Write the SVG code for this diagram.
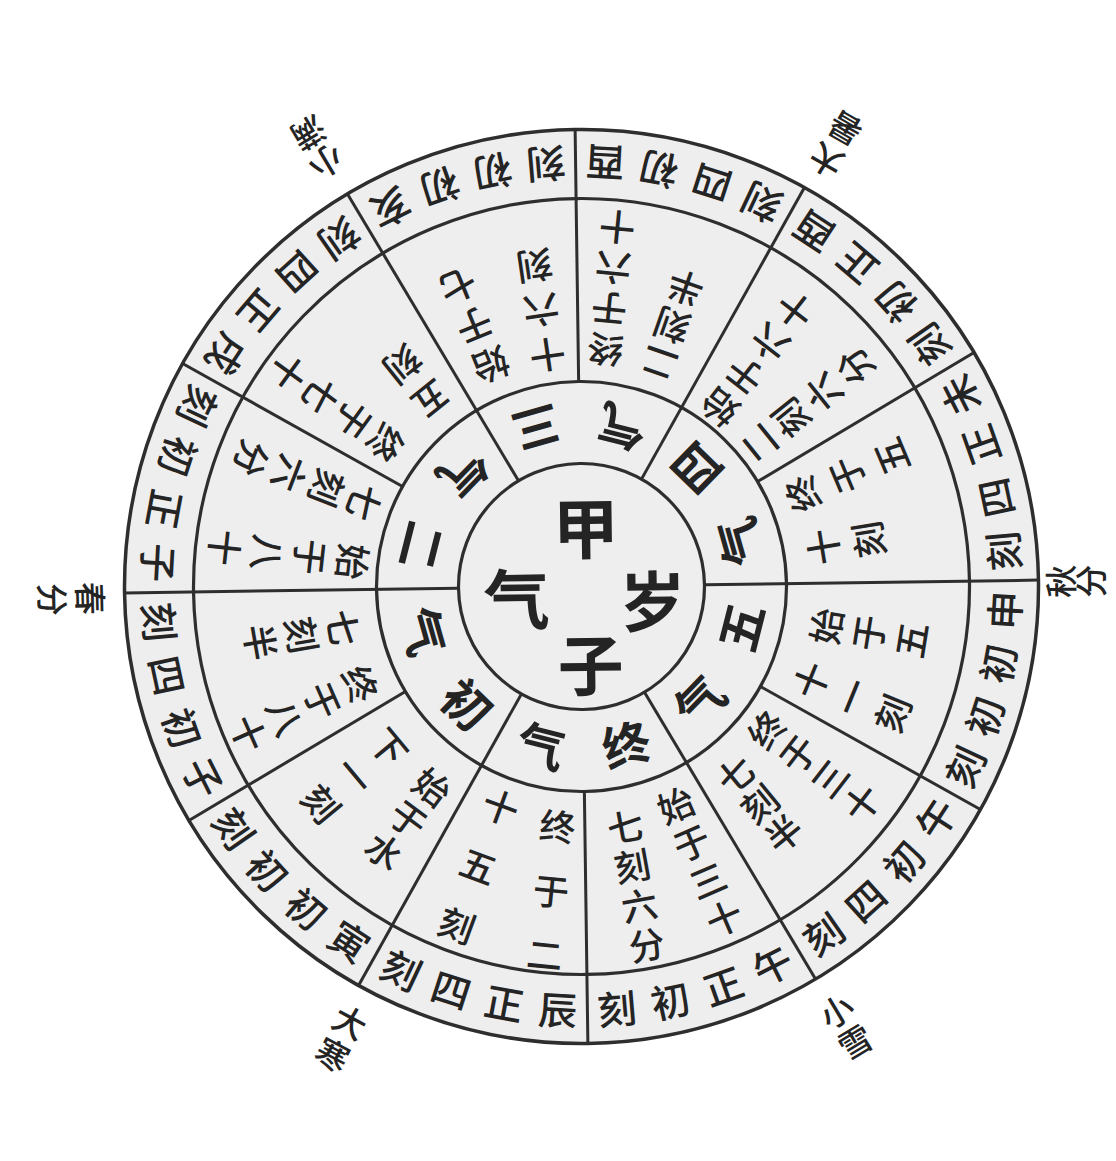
<svg xmlns="http://www.w3.org/2000/svg" width="1116" height="1161" viewBox="0 0 1116 1161">
<style>
text{font-family:"Noto Sans CJK SC","Noto Sans CJK JP",sans-serif;fill:#242424;text-anchor:middle;dominant-baseline:central}
.o{font-size:39px;font-weight:500}
.m{font-size:36px;font-weight:500}
.i{font-size:48px;font-weight:bold}
.c{font-size:66px;font-weight:bold}
.l{font-size:33px;font-weight:500}
.ring{fill:none;stroke:#2e2e2e;stroke-width:3.2}
#connectors line{stroke:#2e2e2e;stroke-width:3}
</style>
<rect width="1116" height="1161" fill="#ffffff"/>
<g transform="translate(581.5,586.5) rotate(-0.8)">
  <g id="rings">
    <circle r="457" fill="#eeeeee" stroke="#2e2e2e" stroke-width="3.5"/>
    <circle class="ring" r="388"/>
    <circle class="ring" r="205"/>
    <circle class="ring" r="123"/>
  </g>
  <g id="connectors">
    <line x1="0" y1="-205" x2="0" y2="-457"/>
    <line x1="0" y1="-205" x2="0" y2="-457" transform="rotate(60)"/>
    <line x1="0" y1="-205" x2="0" y2="-457" transform="rotate(120)"/>
    <line x1="0" y1="-205" x2="0" y2="-457" transform="rotate(180)"/>
    <line x1="0" y1="-205" x2="0" y2="-457" transform="rotate(240)"/>
    <line x1="0" y1="-205" x2="0" y2="-457" transform="rotate(300)"/>
    <line x1="0" y1="-123" x2="0" y2="-457" transform="rotate(30)"/>
    <line x1="0" y1="-123" x2="0" y2="-457" transform="rotate(90)"/>
    <line x1="0" y1="-123" x2="0" y2="-457" transform="rotate(150)"/>
    <line x1="0" y1="-123" x2="0" y2="-457" transform="rotate(210)"/>
    <line x1="0" y1="-123" x2="0" y2="-457" transform="rotate(270)"/>
    <line x1="0" y1="-123" x2="0" y2="-457" transform="rotate(330)"/>
  </g>
  <g id="outer-ring">
    <g id="o0"><text class="o" transform="rotate(4) translate(0,-422) rotate(180)">酉</text><text class="o" transform="rotate(11.3) translate(0,-422) rotate(180)">初</text><text class="o" transform="rotate(18.7) translate(0,-422) rotate(180)">四</text><text class="o" transform="rotate(26) translate(0,-422) rotate(180)">刻</text></g>
    <g id="o30"><text class="o" transform="rotate(34) translate(0,-422) rotate(180)">酉</text><text class="o" transform="rotate(41.3) translate(0,-422) rotate(180)">正</text><text class="o" transform="rotate(48.7) translate(0,-422) rotate(180)">初</text><text class="o" transform="rotate(56) translate(0,-422) rotate(180)">刻</text></g>
    <g id="o60"><text class="o" transform="rotate(64) translate(0,-422) rotate(180)">未</text><text class="o" transform="rotate(71.3) translate(0,-422) rotate(180)">正</text><text class="o" transform="rotate(78.7) translate(0,-422) rotate(180)">四</text><text class="o" transform="rotate(86) translate(0,-422) rotate(180)">刻</text></g>
    <g id="o90"><text class="o" transform="rotate(94) translate(0,-422) rotate(180)">申</text><text class="o" transform="rotate(101.3) translate(0,-422) rotate(180)">初</text><text class="o" transform="rotate(108.7) translate(0,-422) rotate(180)">初</text><text class="o" transform="rotate(116) translate(0,-422) rotate(180)">刻</text></g>
    <g id="o120"><text class="o" transform="rotate(124) translate(0,-422) rotate(180)">午</text><text class="o" transform="rotate(131.3) translate(0,-422) rotate(180)">初</text><text class="o" transform="rotate(138.7) translate(0,-422) rotate(180)">四</text><text class="o" transform="rotate(146) translate(0,-422) rotate(180)">刻</text></g>
    <g id="o150"><text class="o" transform="rotate(154) translate(0,-422) rotate(180)">午</text><text class="o" transform="rotate(161.3) translate(0,-422) rotate(180)">正</text><text class="o" transform="rotate(168.7) translate(0,-422) rotate(180)">初</text><text class="o" transform="rotate(176) translate(0,-422) rotate(180)">刻</text></g>
    <g id="o180"><text class="o" transform="rotate(184) translate(0,-422) rotate(180)">辰</text><text class="o" transform="rotate(191.3) translate(0,-422) rotate(180)">正</text><text class="o" transform="rotate(198.7) translate(0,-422) rotate(180)">四</text><text class="o" transform="rotate(206) translate(0,-422) rotate(180)">刻</text></g>
    <g id="o210"><text class="o" transform="rotate(214) translate(0,-422) rotate(180)">寅</text><text class="o" transform="rotate(221.3) translate(0,-422) rotate(180)">初</text><text class="o" transform="rotate(228.7) translate(0,-422) rotate(180)">初</text><text class="o" transform="rotate(236) translate(0,-422) rotate(180)">刻</text></g>
    <g id="o240"><text class="o" transform="rotate(244) translate(0,-422) rotate(180)">子</text><text class="o" transform="rotate(251.3) translate(0,-422) rotate(180)">初</text><text class="o" transform="rotate(258.7) translate(0,-422) rotate(180)">四</text><text class="o" transform="rotate(266) translate(0,-422) rotate(180)">刻</text></g>
    <g id="o270"><text class="o" transform="rotate(274) translate(0,-422) rotate(180)">子</text><text class="o" transform="rotate(281.3) translate(0,-422) rotate(180)">正</text><text class="o" transform="rotate(288.7) translate(0,-422) rotate(180)">初</text><text class="o" transform="rotate(296) translate(0,-422) rotate(180)">刻</text></g>
    <g id="o300"><text class="o" transform="rotate(304) translate(0,-422) rotate(180)">戌</text><text class="o" transform="rotate(311.3) translate(0,-422) rotate(180)">正</text><text class="o" transform="rotate(318.7) translate(0,-422) rotate(180)">四</text><text class="o" transform="rotate(326) translate(0,-422) rotate(180)">刻</text></g>
    <g id="o330"><text class="o" transform="rotate(334) translate(0,-422) rotate(180)">亥</text><text class="o" transform="rotate(341.3) translate(0,-422) rotate(180)">初</text><text class="o" transform="rotate(348.7) translate(0,-422) rotate(180)">初</text><text class="o" transform="rotate(356) translate(0,-422) rotate(180)">刻</text></g>
  </g>
  <g id="middle-ring">
    <g id="m0"><text class="m" transform="rotate(6.5) translate(0,-236) rotate(180)">终</text><text class="m" transform="rotate(6.5) translate(0,-277) rotate(180)">于</text><text class="m" transform="rotate(6.5) translate(0,-318) rotate(180)">六</text><text class="m" transform="rotate(6.5) translate(0,-359) rotate(180)">十</text><text class="m" transform="rotate(20) translate(0,-234) rotate(180)">二</text><text class="m" transform="rotate(20) translate(0,-274) rotate(180)">刻</text><text class="m" transform="rotate(20) translate(0,-314) rotate(180)">半</text></g>
    <g id="m30"><text class="m" transform="rotate(38.5) translate(0,-224) rotate(180)">始</text><text class="m" transform="rotate(38.5) translate(0,-265) rotate(180)">于</text><text class="m" transform="rotate(38.5) translate(0,-306) rotate(180)">六</text><text class="m" transform="rotate(38.5) translate(0,-347) rotate(180)">十</text><text class="m" transform="rotate(52) translate(0,-226) rotate(180)">二</text><text class="m" transform="rotate(52) translate(0,-267) rotate(180)">刻</text><text class="m" transform="rotate(52) translate(0,-308) rotate(180)">六</text><text class="m" transform="rotate(52) translate(0,-349) rotate(180)">分</text></g>
    <g id="m60"><text class="m" transform="rotate(68) translate(0,-238) rotate(180)">终</text><text class="m" transform="rotate(68) translate(0,-286) rotate(180)">于</text><text class="m" transform="rotate(68) translate(0,-334) rotate(180)">五</text><text class="m" transform="rotate(81.5) translate(0,-243) rotate(180)">十</text><text class="m" transform="rotate(81.5) translate(0,-289) rotate(180)">刻</text></g>
    <g id="m90"><text class="m" transform="rotate(100) translate(0,-246) rotate(180)">始</text><text class="m" transform="rotate(100) translate(0,-289) rotate(180)">于</text><text class="m" transform="rotate(100) translate(0,-332) rotate(180)">五</text><text class="m" transform="rotate(113) translate(0,-246) rotate(180)">十</text><text class="m" transform="rotate(113) translate(0,-290) rotate(180)">一</text><text class="m" transform="rotate(113) translate(0,-334) rotate(180)">刻</text></g>
    <g id="m120"><text class="m" transform="rotate(128.5) translate(0,-232) rotate(180)">终</text><text class="m" transform="rotate(128.5) translate(0,-272) rotate(180)">于</text><text class="m" transform="rotate(128.5) translate(0,-312) rotate(180)">三</text><text class="m" transform="rotate(128.5) translate(0,-352) rotate(180)">十</text><text class="m" transform="rotate(141.5) translate(0,-241) rotate(180)">七</text><text class="m" transform="rotate(141.5) translate(0,-279) rotate(180)">刻</text><text class="m" transform="rotate(141.5) translate(0,-317) rotate(180)">半</text></g>
    <g id="m150"><text class="m" transform="rotate(157.5) translate(0,-236) rotate(180)">始</text><text class="m" transform="rotate(157.5) translate(0,-277) rotate(180)">于</text><text class="m" transform="rotate(157.5) translate(0,-318) rotate(180)">三</text><text class="m" transform="rotate(157.5) translate(0,-359) rotate(180)">十</text><text class="m" transform="rotate(170.5) translate(0,-242) rotate(180)">七</text><text class="m" transform="rotate(170.5) translate(0,-282) rotate(180)">刻</text><text class="m" transform="rotate(170.5) translate(0,-322) rotate(180)">六</text><text class="m" transform="rotate(170.5) translate(0,-362) rotate(180)">分</text></g>
    <g id="m180"><text class="m" transform="rotate(186.5) translate(0,-239) rotate(180)">终</text><text class="m" transform="rotate(186.5) translate(0,-304) rotate(180)">于</text><text class="m" transform="rotate(186.5) translate(0,-368) rotate(180)">二</text><text class="m" transform="rotate(201) translate(0,-233) rotate(180)">十</text><text class="m" transform="rotate(201) translate(0,-296) rotate(180)">五</text><text class="m" transform="rotate(201) translate(0,-359) rotate(180)">刻</text></g>
    <g id="m210"><text class="m" transform="rotate(217.5) translate(0,-248) rotate(180)">始</text><text class="m" transform="rotate(217.5) translate(0,-288) rotate(180)">于</text><text class="m" transform="rotate(217.5) translate(0,-328) rotate(180)">水</text><text class="m" transform="rotate(231) translate(0,-249) rotate(180)">下</text><text class="m" transform="rotate(231) translate(0,-293) rotate(180)">一</text><text class="m" transform="rotate(231) translate(0,-337) rotate(180)">刻</text></g>
    <g id="m240"><text class="m" transform="rotate(247) translate(0,-240) rotate(180)">终</text><text class="m" transform="rotate(247) translate(0,-281) rotate(180)">于</text><text class="m" transform="rotate(247) translate(0,-322) rotate(180)">八</text><text class="m" transform="rotate(247) translate(0,-362) rotate(180)">十</text><text class="m" transform="rotate(261) translate(0,-240) rotate(180)">七</text><text class="m" transform="rotate(261) translate(0,-282) rotate(180)">刻</text><text class="m" transform="rotate(261) translate(0,-324) rotate(180)">半</text></g>
    <g id="m270"><text class="m" transform="rotate(277) translate(0,-228) rotate(180)">始</text><text class="m" transform="rotate(277) translate(0,-271) rotate(180)">于</text><text class="m" transform="rotate(277) translate(0,-314) rotate(180)">八</text><text class="m" transform="rotate(277) translate(0,-357) rotate(180)">十</text><text class="m" transform="rotate(292) translate(0,-231) rotate(180)">七</text><text class="m" transform="rotate(292) translate(0,-271) rotate(180)">刻</text><text class="m" transform="rotate(292) translate(0,-311) rotate(180)">六</text><text class="m" transform="rotate(292) translate(0,-352) rotate(180)">分</text></g>
    <g id="m300"><text class="m" transform="rotate(307) translate(0,-241) rotate(180)">终</text><text class="m" transform="rotate(307) translate(0,-281) rotate(180)">于</text><text class="m" transform="rotate(307) translate(0,-321) rotate(180)">七</text><text class="m" transform="rotate(307) translate(0,-361) rotate(180)">十</text><text class="m" transform="rotate(322) translate(0,-238) rotate(180)">五</text><text class="m" transform="rotate(322) translate(0,-283) rotate(180)">刻</text></g>
    <g id="m330"><text class="m" transform="rotate(338.5) translate(0,-237) rotate(180)">始</text><text class="m" transform="rotate(338.5) translate(0,-280) rotate(180)">于</text><text class="m" transform="rotate(338.5) translate(0,-323) rotate(180)">七</text><text class="m" transform="rotate(352.5) translate(0,-232) rotate(180)">十</text><text class="m" transform="rotate(352.5) translate(0,-277) rotate(180)">六</text><text class="m" transform="rotate(352.5) translate(0,-322) rotate(180)">刻</text></g>
  </g>
  <g id="inner-ring">
    <g id="q3"><text class="i" transform="rotate(345) translate(0,-162) rotate(180)">三</text><text class="i" transform="rotate(15) translate(0,-162) rotate(180)">气</text></g>
    <g id="q4"><text class="i" transform="rotate(45) translate(0,-162) rotate(180)">四</text><text class="i" transform="rotate(75) translate(0,-162) rotate(180)">气</text></g>
    <g id="q5"><text class="i" transform="rotate(105) translate(0,-162) rotate(180)">五</text><text class="i" transform="rotate(135) translate(0,-162) rotate(180)">气</text></g>
    <g id="q6"><text class="i" transform="rotate(165) translate(0,-162) rotate(180)">终</text><text class="i" transform="rotate(195) translate(0,-162) rotate(180)">气</text></g>
    <g id="q1"><text class="i" transform="rotate(225) translate(0,-162) rotate(180)">初</text><text class="i" transform="rotate(255) translate(0,-162) rotate(180)">气</text></g>
    <g id="q2"><text class="i" transform="rotate(285) translate(0,-162) rotate(180)">二</text><text class="i" transform="rotate(315) translate(0,-162) rotate(180)">气</text></g>
  </g>
  <g id="labels">
    <g id="l-chunfen"><text class="l" transform="rotate(269.4) translate(0,-490) rotate(180)">春</text><text class="l" transform="rotate(269.4) translate(0,-528) rotate(180)">分</text></g>
    <g id="l-xiaoman"><text class="l" transform="rotate(329.8) translate(0,-494) rotate(180)">小</text><text class="l" transform="rotate(329.8) translate(0,-528) rotate(180)">满</text></g>
    <g id="l-dashu"><text class="l" transform="rotate(30.7) translate(0,-490) rotate(180)">大</text><text class="l" transform="rotate(30.7) translate(0,-527) rotate(180)">暑</text></g>
    <g id="l-qiufen"><text class="l" transform="rotate(90.2) translate(0,-478) rotate(180)">秋</text><text class="l" transform="rotate(90.2) translate(0,-508) rotate(180)">分</text></g>
    <g id="l-xiaoxue"><text class="l" transform="rotate(149.8) translate(0,-494) rotate(180)">小</text><text class="l" transform="rotate(149.8) translate(0,-530) rotate(180)">雪</text></g>
    <g id="l-dahan"><text class="l" transform="rotate(208.8) translate(0,-492) rotate(180)">大</text><text class="l" transform="rotate(208.8) translate(0,-529) rotate(180)">寒</text></g>
  </g>
  <g id="center">
    <text class="c" x="5" y="-62">甲</text>
    <text class="c" x="71" y="12">岁</text>
    <text class="c" x="8" y="75">子</text>
    <text class="c" x="-65" y="8">气</text>
  </g>
</g>
</svg>
